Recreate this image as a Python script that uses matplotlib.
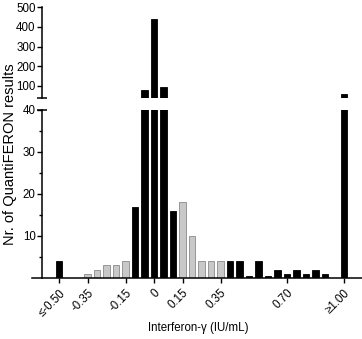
import matplotlib.pyplot as plt

plt.rcParams['font.family'] = ['Liberation Sans', 'DejaVu Sans']

# bin centres (IU/mL), counts per bin and which bins are drawn grey
bins = [-0.50, -0.45, -0.40, -0.35, -0.30, -0.25, -0.20, -0.15, -0.10, -0.05,
        0.00, 0.05, 0.10, 0.15, 0.20, 0.25, 0.30, 0.35, 0.40, 0.45,
        0.50, 0.55, 0.60, 0.65, 0.70, 0.75, 0.80, 0.85, 0.90, 0.95, 1.00]
counts = [4, 0, 0, 1, 2, 3, 3, 4, 17, 78,
          440, 95, 16, 18, 10, 4, 4, 4, 4, 4,
          0.5, 4, 0.5, 2, 1, 2, 1, 2, 1, 0, 58]
grey = [False, False, False, True, True, True, True, True, False, False,
        False, False, False, True, True, True, True, True, False, False,
        False, False, False, False, False, False, False, False, False, False, False]

tick_pos = [-0.50, -0.35, -0.15, 0.0, 0.15, 0.35, 0.70, 1.00]
tick_labels = ['≤-0.50', '-0.35', '-0.15', '0', '0.15', '0.35', '0.70', '≥1.00']

fig = plt.figure(figsize=(3.62, 3.39), dpi=100)
W, H = 362, 339

# lower panel 0-40, upper panel 40-500 (broken axis)
ax_lo = fig.add_axes([32 / W, 1 - 278 / H, 330 / W, 168 / H])
ax_hi = fig.add_axes([32 / W, 1 - 97.5 / H, 330 / W, 90.2 / H])

xmin, xmax = (32 - 154) / 190, (362 - 154) / 190
spine_x = -0.59

face = ['#c8c8c8' if g else 'black' for g in grey]
edge = ['#8a8a8a' if g else 'black' for g in grey]

for ax in (ax_lo, ax_hi):
    ax.bar(bins, counts, width=0.034, color=face, edgecolor=edge, linewidth=0.6)
    ax.set_xlim(xmin, xmax)
    ax.spines['right'].set_visible(False)
    ax.spines['top'].set_visible(False)
    ax.spines['left'].set_position(('data', spine_x))
    ax.spines['left'].set_linewidth(1.1)
    ax.tick_params(axis='y', labelsize=8.3, length=3.5, width=1.0, pad=1)

ax_lo.set_ylim(0, 40)
ax_lo.set_yticks([10, 20, 30, 40])
ax_lo.set_yticks([5, 15, 25, 35], minor=True)
ax_lo.tick_params(axis='y', which='minor', length=2, width=1.0)
ax_lo.spines['bottom'].set_linewidth(1.1)
ax_lo.set_xticks(tick_pos)
ax_lo.set_xticklabels(tick_labels, rotation=45, ha='right', va='top',
                      rotation_mode='anchor', fontsize=8.3)
ax_lo.tick_params(axis='x', length=3.5, width=1.0, pad=3)

ax_hi.set_ylim(40, 500)
ax_hi.set_yticks([100, 200, 300, 400, 500])
ax_hi.spines['bottom'].set_visible(False)
ax_hi.set_xticks([])

# break caps on the y axis
ax_lo.plot([spine_x], [40], marker='_', markersize=7.5, markeredgewidth=1.1,
           color='black', clip_on=False)
ax_hi.plot([spine_x], [40], marker='_', markersize=7.5, markeredgewidth=1.1,
           color='black', clip_on=False)

fig.text(10 / W, 1 - 154 / H, 'Nr. of QuantiFERON results', rotation=90,
         ha='center', va='center', fontsize=10.5)
fig.text(198 / W, 1 - 328 / H, 'Interferon-γ (IU/mL)', ha='center', va='center',
         fontsize=8.3)

plt.savefig('out.png', dpi=100)
